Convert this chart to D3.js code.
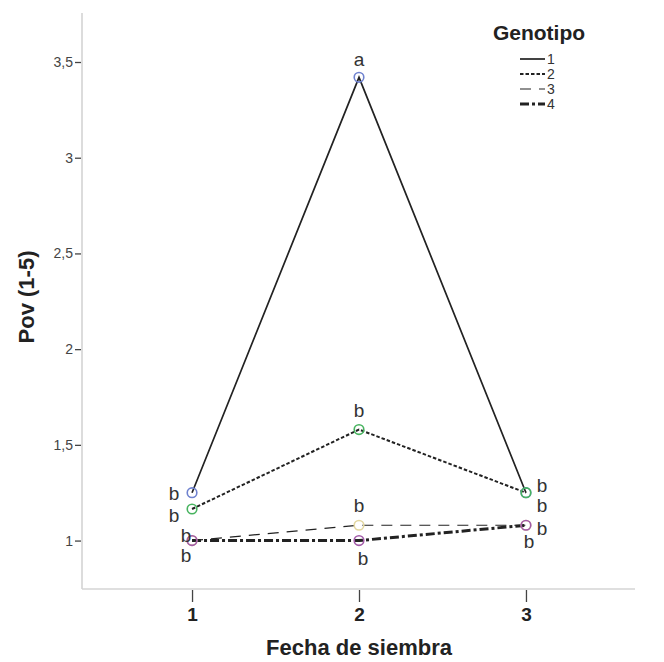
<!DOCTYPE html>
<html>
<head>
<meta charset="utf-8">
<script src="https://cdn.jsdelivr.net/npm/d3@7"></script>
<style>
  body { margin: 0; background: #fff; }
  svg { display: block; font-family: "Liberation Sans", Arial, sans-serif; }
</style>
</head>
<body>
<svg id="chart" width="664" height="662"></svg>
<script>
// Sowing dates on the x axis
const fechas = [1, 2, 3];
// Mean Pov (1-5) score per genotype
const genotipo1 = [1.25, 3.42, 1.25];
const genotipo2 = [1.165, 1.58, 1.25];
const genotipo3 = [1.0, 1.08, 1.08];
const genotipo4 = [1.0, 1.0, 1.08];
// Significance letters per genotype and date
const letras1 = ["b", "a", "b"];
const letras2 = ["b", "b", "b"];
const letras3 = ["b", "b", "b"];
const letras4 = ["b", "b", "b"];
const genotipos = ["1", "2", "3", "4"];
const yTicks = [1, 1.5, 2, 2.5, 3, 3.5];

const series = [
  { name: genotipos[0], values: genotipo1, letters: letras1, dash: null, width: 1.7, marker: "#6f82cf",
    lab: [[-18, 2], [0, -16], [16, -6]] },
  { name: genotipos[1], values: genotipo2, letters: letras2, dash: "3.5,2", width: 2, marker: "#47b35f",
    lab: [[-18, 8], [0, -18], [16, 14]] },
  { name: genotipos[2], values: genotipo3, letters: letras3, dash: "11,8", width: 1.2, marker: "#e3d7a0",
    lab: [[-6, -4], [0, -18], [16, 5]] },
  { name: genotipos[3], values: genotipo4, letters: letras4, dash: "9,3,3,3", width: 3, marker: "#a25aa8",
    lab: [[-6, 16], [4, 19], [3, 18]] }
];

const svg = d3.select("#chart");
const plotL = 82, plotR = 635, plotT = 13, plotB = 589;

const x = d3.scaleLinear().domain([0.341, 3.653]).range([plotL, plotR]);
const y = d3.scaleLinear().domain([0.747, 3.756]).range([plotB, plotT]);

// Axis lines
svg.append("line").attr("x1", plotL).attr("x2", plotL).attr("y1", plotT).attr("y2", plotB)
  .attr("stroke", "#d4d4d4").attr("stroke-width", 1.6);
svg.append("line").attr("x1", plotL).attr("x2", plotR).attr("y1", plotB).attr("y2", plotB)
  .attr("stroke", "#d4d4d4").attr("stroke-width", 1.6);

// Y axis ticks
const fmt = d => String(d).replace(".", ",");
const yAxis = svg.append("g").attr("transform", `translate(${plotL - 1},0)`)
  .call(d3.axisLeft(y).tickValues(yTicks).tickSize(6).tickPadding(2).tickFormat(fmt));
yAxis.select(".domain").remove();
yAxis.selectAll(".tick line").attr("stroke", "#444").attr("stroke-width", 1.3);
yAxis.selectAll(".tick text").attr("fill", "#444").style("font-size", "14px")
  .style("font-family", "Liberation Sans, Arial, sans-serif");

// X axis ticks
const xAxis = svg.append("g").attr("transform", `translate(0,${plotB + 1})`)
  .call(d3.axisBottom(x).tickValues(fechas).tickSize(12).tickPadding(6).tickFormat(d3.format("d")));
xAxis.select(".domain").remove();
xAxis.selectAll(".tick line").attr("stroke", "#444").attr("stroke-width", 1.3);
xAxis.selectAll(".tick text").attr("fill", "#222").style("font-size", "19px").style("font-weight", "bold")
  .style("font-family", "Liberation Sans, Arial, sans-serif");

// Axis titles
svg.append("text").attr("x", x(2)).attr("y", 655).attr("text-anchor", "middle")
  .style("font-size", "22px").style("font-weight", "bold").attr("fill", "#222").text("Fecha de siembra");
svg.append("text").attr("transform", `translate(34,297) rotate(-90)`)
  .attr("text-anchor", "middle").style("font-size", "22px").style("font-weight", "bold")
  .attr("fill", "#222").text("Pov (1-5)");

// Lines
const line = d3.line().x((d, i) => x(fechas[i])).y(d => y(d));
series.forEach(s => {
  svg.append("path").datum(s.values).attr("d", line).attr("fill", "none")
    .attr("stroke", "#222").attr("stroke-width", s.width)
    .attr("stroke-dasharray", s.dash);
});

// Markers
series.forEach(s => {
  svg.selectAll(null).data(s.values).enter().append("circle")
    .attr("cx", (d, i) => x(fechas[i])).attr("cy", d => y(d)).attr("r", 4.8)
    .attr("fill", "none").attr("stroke", s.marker).attr("stroke-width", 1.6);
});

// Letters
series.forEach(s => {
  svg.selectAll(null).data(s.values).enter().append("text")
    .attr("x", (d, i) => x(fechas[i]) + s.lab[i][0])
    .attr("y", (d, i) => y(d) + s.lab[i][1])
    .attr("text-anchor", "middle").attr("dominant-baseline", "middle")
    .style("font-size", "19px").attr("fill", "#333")
    .text((d, i) => s.letters[i]);
});

// Legend
const lg = svg.append("g");
lg.append("text").attr("x", 539).attr("y", 40).attr("text-anchor", "middle")
  .style("font-size", "21px").style("font-weight", "bold").attr("fill", "#222").text("Genotipo");
series.forEach((s, i) => {
  const yy = 59 + i * 15;
  lg.append("line").attr("x1", 520).attr("x2", 545).attr("y1", yy).attr("y2", yy)
    .attr("stroke", "#222").attr("stroke-width", s.width).attr("stroke-dasharray", s.dash);
  lg.append("text").attr("x", 547).attr("y", yy + 5).style("font-size", "14px")
    .attr("fill", "#333").text(s.name);
});
</script>
</body>
</html>
